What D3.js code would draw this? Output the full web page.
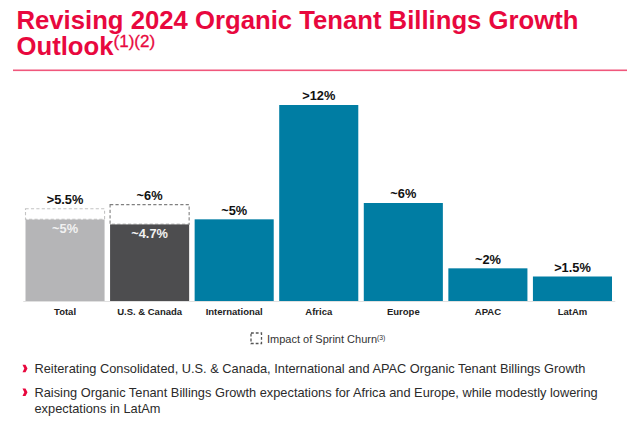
<!DOCTYPE html>
<html>
<head>
<meta charset="utf-8">
<script src="https://cdn.jsdelivr.net/npm/d3@7"></script>
<style>
html,body{margin:0;padding:0;background:#fff;overflow:hidden}
svg{display:block}
text{font-family:"Liberation Sans",Arial,sans-serif}
</style>
</head>
<body>
<svg id="c" width="640" height="421"></svg>
<script>
const categories = ["Total","U.S. & Canada","International","Africa","Europe","APAC","LatAm"];
const barValues = [5,4.7,5,12,6,2,1.5];
const churnTops = [5.65,5.9,null,null,null,null,null];
const topLabels = [">5.5%","~6%","~5%",">12%","~6%","~2%",">1.5%"];
const innerLabels = ["~5%","~4.7%",null,null,null,null,null];
const barColors = ["#b5b5b7","#4d4d4f","#007da3","#007da3","#007da3","#007da3","#007da3"];
const titleLines = ["Revising 2024 Organic Tenant Billings Growth","Outlook"];
const titleSup = "(1)(2)";
const legendText = "Impact of Sprint Churn";
const legendSup = "(3)";
const bullets = [
 ["Reiterating Consolidated, U.S. & Canada, International and APAC Organic Tenant Billings Growth"],
 ["Raising Organic Tenant Billings Growth expectations for Africa and Europe, while modestly lowering","expectations in LatAm"]
];

const svg = d3.select("#c");
const RED = "#e8083e";

// title
svg.append("text").attr("x",16.5).attr("y",28.5).attr("font-size",25.7).attr("font-weight",700).attr("fill",RED).text(titleLines[0]);
const t2 = svg.append("text").attr("x",16.5).attr("y",55).attr("font-size",25.7).attr("font-weight",700).attr("fill",RED);
t2.append("tspan").text(titleLines[1]);
t2.append("tspan").attr("font-size",17).attr("font-weight",400).attr("stroke",RED).attr("stroke-width",0.3).attr("dy",-8.5).text(titleSup);
svg.append("rect").attr("x",13).attr("y",69.5).attr("width",614).attr("height",1.6).attr("fill","#f0577c");

// scales
const x = d3.scaleBand().domain(categories).range([22.75,614.75]).paddingInner(0.065).paddingOuter(0.0325);
const y = d3.scaleLinear().domain([0,12]).range([301,105]);

// axis
const axis = d3.axisBottom(x).tickSize(0).tickPadding(7.5);
const gx = svg.append("g").attr("transform","translate(0,301)").call(axis);
gx.select(".domain").attr("stroke","#e0e0e0").attr("stroke-width",1.2);
gx.selectAll("text").attr("font-size",9.5).attr("font-weight",700).attr("fill","#222").attr("font-family",'"Liberation Sans",Arial,sans-serif');

// bars
svg.append("g").selectAll("rect").data(categories).join("rect")
 .attr("x",d=>x(d)).attr("width",x.bandwidth())
 .attr("y",(d,i)=>y(barValues[i]))
 .attr("height",(d,i)=>y(0)-y(barValues[i]))
 .attr("fill",(d,i)=>barColors[i]);

// churn dashed boxes
const churn = categories.map((c,i)=>({c,i})).filter(d=>churnTops[d.i]!==null);
svg.append("g").selectAll("rect").data(churn).join("rect")
 .attr("x",d=>x(d.c)).attr("width",x.bandwidth())
 .attr("y",d=>y(churnTops[d.i]))
 .attr("height",d=>y(barValues[d.i])-y(churnTops[d.i]))
 .attr("fill","#fff")
 .attr("stroke",(d)=>d.i===0?"#c4c4c4":"#808080")
 .attr("stroke-width",1.1)
 .attr("stroke-dasharray","3.2 2.2");

// top labels
svg.append("g").selectAll("text").data(categories).join("text")
 .attr("x",d=>x(d)+x.bandwidth()/2)
 .attr("y",(d,i)=>y(churnTops[i]!==null?churnTops[i]:barValues[i])-4.8)
 .attr("text-anchor","middle").attr("font-size",12.8).attr("font-weight",700).attr("fill","#111")
 .text((d,i)=>topLabels[i]);

// inner labels
const inner = categories.map((c,i)=>({c,i})).filter(d=>innerLabels[d.i]!==null);
svg.append("g").selectAll("text").data(inner).join("text")
 .attr("x",d=>x(d.c)+x.bandwidth()/2)
 .attr("y",d=>y(barValues[d.i])+14)
 .attr("text-anchor","middle").attr("font-size",12.8).attr("font-weight",700).attr("fill","#f1f1f1")
 .text(d=>innerLabels[d.i]);

// legend
svg.append("rect").attr("x",251).attr("y",333).attr("width",10.5).attr("height",10.5)
 .attr("fill","#fff").attr("stroke","#555").attr("stroke-width",1.3).attr("stroke-dasharray","2.8 2");
const lg = svg.append("text").attr("x",267).attr("y",343).attr("font-size",11).attr("fill","#333");
lg.append("tspan").text(legendText);
lg.append("tspan").attr("font-size",6.8).attr("dy",-3.5).text(legendSup);

// bullets
const body = svg.append("g").attr("font-size",12.8).attr("fill","#2b2b2b");
const bulletY = [[373],[396.7,412.6]];
bullets.forEach((lines,i)=>{
  const yy = bulletY[i][0]-4.5;
  body.append("path")
   .attr("d",`M22.5,${yy-3.8} L25.5,${yy-3.8} L27.5,${yy} L25.5,${yy+3.8} L22.5,${yy+3.8} L24.3,${yy} Z`)
   .attr("fill",RED);
  lines.forEach((l,j)=>{
    body.append("text").attr("x",34.5).attr("y",bulletY[i][j]).text(l);
  });
});
</script>
</body>
</html>
